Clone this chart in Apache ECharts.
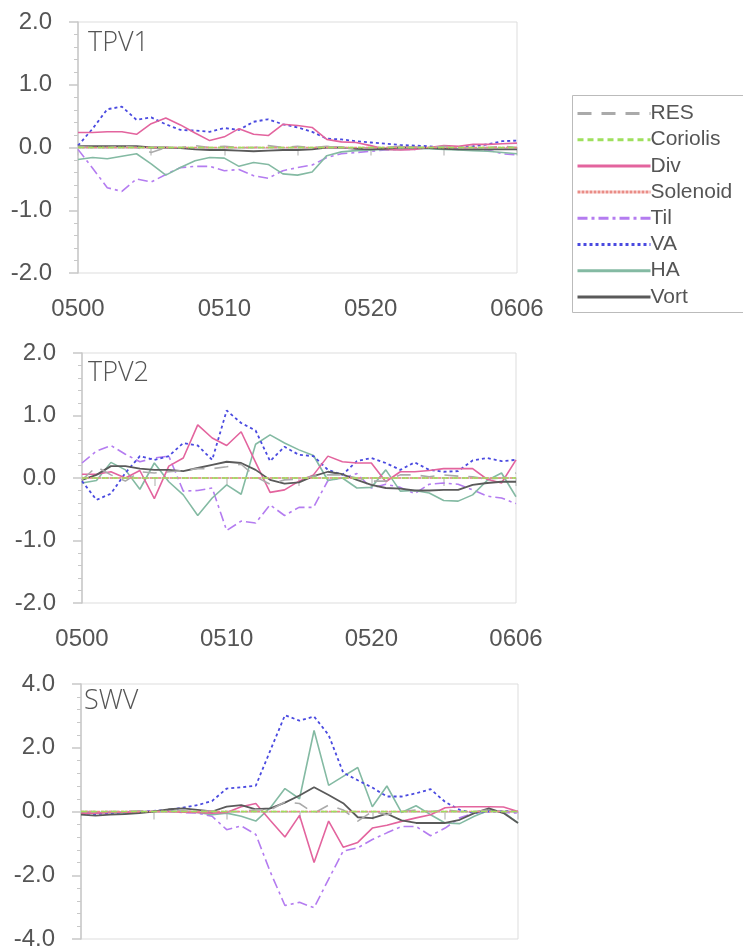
<!DOCTYPE html>
<html><head><meta charset="utf-8">
<script src="https://cdn.jsdelivr.net/npm/echarts@6/dist/echarts.min.js"></script>
<style>html,body{margin:0;padding:0;background:#fff;}#c{width:743px;height:951px;}</style>
</head><body><div id="c"></div>
<script>
// ---------- data ----------
const categories = ['0500','0501','0502','0503','0504','0505','0506','0507','0508','0509',
  '0510','0511','0512','0513','0514','0515','0516','0517','0518','0519',
  '0520','0521','0522','0523','0524','0525','0526','0527','0528','0529','0606'];
const xTickLabels = ['0500','0510','0520','0606'];
const yTicksTPV = [-2, -1, 0, 1, 2];
const yTicksSWV = [-4, -2, 0, 2, 4];
const seriesNames = ['RES','Coriolis','Div','Solenoid','Til','VA','HA','Vort'];
const panelTitles = ['TPV1','TPV2','SWV'];

// TPV1
const res1 = [0.02,0.0,0.0,0.02,0.0,-0.08,0.0,0.0,0.03,0.0,0.02,0.0,0.0,0.03,0.0,0.02,0.0,0.02,0.0,-0.02,0.0,0.0,0.02,0.0,0.0,0.02,0.0,0.0,0.0,0.02,0.0];
const cor1 = [0,0,0,0,0,0,0,0,0,0,0,0,0,0,0,0,0,0,0,0,0,0,0,0,0,0,0,0,0,0,0];
const div1 = [0.24,0.24,0.25,0.25,0.21,0.38,0.47,0.36,0.23,0.11,0.17,0.30,0.21,0.19,0.37,0.35,0.32,0.13,0.09,0.08,0.03,-0.03,-0.04,-0.03,0.0,0.03,0.02,0.05,0.05,0.06,0.07];
const sol1 = [0,0,0,0,0,0,0,0,0,0,0,0,0,0,0,0,0,0,0,0,0,0,0,0,0,0,0,0,0,0,0];
const til1 = [-0.03,-0.33,-0.64,-0.70,-0.50,-0.55,-0.43,-0.32,-0.30,-0.30,-0.37,-0.35,-0.45,-0.49,-0.37,-0.32,-0.28,-0.16,-0.10,-0.08,-0.06,-0.04,-0.03,-0.03,0.0,-0.02,-0.03,-0.04,-0.04,-0.10,-0.12];
const va1 = [0.03,0.30,0.61,0.65,0.44,0.48,0.37,0.28,0.27,0.25,0.31,0.28,0.41,0.45,0.37,0.32,0.25,0.14,0.13,0.10,0.08,0.06,0.04,0.03,0.02,0.0,0.0,0.02,0.05,0.10,0.11];
const ha1 = [-0.19,-0.16,-0.18,-0.14,-0.10,-0.26,-0.44,-0.32,-0.21,-0.16,-0.17,-0.30,-0.24,-0.27,-0.42,-0.44,-0.39,-0.13,-0.07,-0.05,-0.04,-0.03,-0.03,-0.02,-0.02,-0.03,-0.04,-0.05,-0.06,-0.08,-0.10];
const vort1 = [0.02,0.02,0.02,0.02,0.02,0.0,0.0,-0.01,-0.03,-0.04,-0.04,-0.05,-0.06,-0.05,-0.04,-0.04,-0.03,0.0,0.0,-0.02,-0.03,-0.02,0.0,0.0,-0.01,-0.02,-0.03,-0.03,-0.03,-0.03,-0.03];

// TPV2
const res2 = [-0.03,0.18,0.05,-0.05,0.10,0.08,0.10,0.12,0.15,0.15,0.18,0.22,0.02,-0.10,-0.03,-0.02,0.03,0.05,0.05,0.0,-0.05,-0.05,0.05,0.05,0.02,0.05,0.03,0.02,-0.02,0.0,0.08];
const cor2 = [0,0,0,0,0,0,0,0,0,0,0,0,0,0,0,0,0,0,0,0,0,0,0,0,0,0,0,0,0,0,0];
const div2 = [0.06,0.06,0.10,0.0,0.12,-0.33,0.19,0.32,0.85,0.64,0.52,0.74,0.25,-0.23,-0.19,-0.05,0.05,0.35,0.26,0.24,0.24,-0.06,0.10,0.10,0.12,0.15,0.15,0.15,-0.02,-0.08,0.29];
const sol2 = [0,0,0,0,0,0,0,0,0,0,0,0,0,0,0,0,0,0,0,0,0,0,0,0,0,0,0,0,0,0,0];
const til2 = [0.24,0.43,0.52,0.38,0.26,0.32,0.35,-0.21,-0.20,-0.16,-0.84,-0.69,-0.72,-0.43,-0.60,-0.47,-0.47,-0.04,0.0,0.07,-0.16,-0.10,-0.15,-0.25,-0.10,-0.08,-0.10,-0.19,-0.29,-0.32,-0.41];
const va2 = [-0.05,-0.35,-0.25,0.08,0.35,0.29,0.35,0.56,0.52,0.29,1.08,0.88,0.76,0.27,0.50,0.37,0.35,0.13,0.05,0.27,0.32,0.24,0.13,0.25,0.13,0.10,0.11,0.28,0.32,0.27,0.29];
const ha2 = [-0.08,-0.04,0.25,0.13,-0.18,0.24,-0.06,-0.27,-0.60,-0.32,-0.11,-0.26,0.54,0.69,0.56,0.45,0.36,-0.04,0.0,-0.16,-0.15,0.13,-0.21,-0.20,-0.24,-0.36,-0.37,-0.27,-0.04,0.08,-0.30];
const vort2 = [-0.03,0.05,0.19,0.19,0.15,0.13,0.13,0.11,0.16,0.21,0.26,0.24,0.13,-0.03,-0.09,-0.07,0.03,0.10,0.06,-0.03,-0.11,-0.16,-0.17,-0.20,-0.20,-0.19,-0.19,-0.11,-0.08,-0.06,-0.06];

// SWV
const res3 = [0,0,0,0,0.02,0,0,0.02,0,0.02,0,0,0.05,0.05,0.30,0.25,-0.05,0.20,0.05,-0.30,0.0,-0.10,0.0,0.05,0.0,0.05,0.0,0.0,0.05,0.0,0.0];
const cor3 = [0,0,0,0,0,0,0,0,0,0,0,0,0,0,0,0,0,0,0,0,0,0,0,0,0,0,0,0,0,0,0];
const div3 = [-0.05,-0.05,-0.03,-0.02,-0.02,0.0,0.0,-0.02,-0.03,-0.05,-0.03,0.15,0.25,-0.28,-0.80,-0.12,-1.60,-0.30,-1.12,-0.97,-0.52,-0.43,-0.31,-0.20,-0.10,0.12,0.15,0.15,0.15,0.14,0.0];
const sol3 = [0,0,0,0,0,0,0,0,0,0,0,0,0,0,0,0,0,0,0,0,0,0,0,0,0,0,0,0,0,0,0];
const til3 = [-0.02,-0.02,-0.01,-0.01,0.0,0.0,0.0,-0.03,-0.05,-0.15,-0.57,-0.45,-0.72,-1.90,-2.95,-2.85,-3.02,-2.12,-1.24,-1.14,-0.88,-0.67,-0.47,-0.47,-0.76,-0.52,-0.20,-0.05,0.0,-0.03,-0.05];
const va3 = [-0.05,-0.08,-0.05,-0.03,-0.02,0.02,0.05,0.12,0.20,0.33,0.72,0.76,0.81,1.92,3.02,2.85,2.98,2.40,1.22,0.98,0.75,0.47,0.47,0.57,0.70,0.30,0.05,-0.05,0.0,0.02,0.0];
const ha3 = [-0.05,-0.05,-0.03,-0.05,-0.03,0.0,0.02,0.0,-0.03,-0.10,-0.05,-0.15,-0.30,0.12,0.72,0.40,2.54,0.82,1.10,1.38,0.15,0.80,-0.03,0.18,-0.10,-0.36,-0.38,-0.15,0.04,-0.02,-0.36];
const vort3 = [-0.10,-0.13,-0.10,-0.08,-0.05,0.0,0.07,0.10,0.05,0.0,0.15,0.20,0.07,0.10,0.28,0.50,0.76,0.52,0.26,-0.18,-0.21,-0.07,-0.28,-0.36,-0.36,-0.36,-0.26,-0.05,0.10,-0.05,-0.36];

const panelData = [
  [res1, cor1, div1, sol1, til1, va1, ha1, vort1],
  [res2, cor2, div2, sol2, til2, va2, ha2, vort2],
  [res3, cor3, div3, sol3, til3, va3, ha3, vort3]
];

// ---------- styles ----------
const lineStyles = {
  RES:      {color:'#aaaaaa', type:[14,10], width:1.6},
  Coriolis: {color:'#9ee05c', type:[6,4], width:1.6},
  Div:      {color:'#e3649e', type:'solid', width:1.6},
  Solenoid: {color:'#ea8c86', type:[3,1], width:1.6},
  Til:      {color:'#b47cf0', type:[10,4,3,4], width:1.6},
  VA:       {color:'#4a4ae0', type:[3,3], width:1.8},
  HA:       {color:'#84baa3', type:'solid', width:1.6},
  Vort:     {color:'#5a5a5a', type:'solid', width:1.8}
};
const drawOrder = ['Til','HA','VA','Div','Vort','RES','Solenoid','Coriolis'];

const grids = [
  {left:78, top:22, width:439, height:251},
  {left:82, top:353, width:434, height:250},
  {left:81, top:684, width:437, height:255}
];
const yRanges = [yTicksTPV, yTicksTPV, yTicksSWV];
const txt = '#555555';
const axisGray = '#c8c8c8';

const option = {
  backgroundColor:'#ffffff',
  animation:false,
  title: panelTitles.map((t,i)=>({
    text:t, left: [88,88,84][i], top: [30,360,688][i], padding:0,
    textStyle:{fontFamily:'Open Sans', fontWeight:300, fontSize:27, color:txt}
  })),
  graphic:[{
    type:'rect', silent:true, z:0,
    shape:{x:572.5, y:95.5, width:220, height:217},
    style:{fill:'none', stroke:'#bbbbbb', lineWidth:1}
  }],
  legend:{
    orient:'vertical', left:572, top:95,
    padding:[8,10,5,4], itemGap:5.2, itemWidth:73, itemHeight:20,
    borderWidth:0,
    data: seriesNames,
    itemStyle:{opacity:0},
    textStyle:{fontFamily:'Liberation Sans', fontSize:21, color:txt, padding:[0,0,0,-5], lineHeight:20},
    lineStyle:{width:3}
  },
  grid: grids.map(g=>Object.assign({show:true, borderColor:'#dddddd', borderWidth:1, containLabel:false}, g)),
  xAxis: grids.map((g,i)=>({
    type:'category', gridIndex:i, data:categories, boundaryGap:false,
    axisLine:{lineStyle:{color:axisGray, width:1.5}},
    axisTick:{show:true, interval:4, length:8, lineStyle:{color:axisGray, width:1.5}},
    axisLabel:{show: i<2, interval:9, margin:24, fontFamily:'Liberation Sans', fontSize:24, color:txt,
      formatter:(v,idx)=> xTickLabels[idx/10] },
    splitLine:{show:false}
  })),
  yAxis: grids.map((g,i)=>{
    const t = yRanges[i];
    return {
      type:'value', gridIndex:i, min:t[0], max:t[t.length-1], interval:t[1]-t[0],
      axisLine:{show:true, lineStyle:{color:axisGray, width:1.5}},
      axisTick:{show:true, length:9, lineStyle:{color:axisGray, width:1.5}},
      minorTick:{show:true, splitNumber:5, length:4, lineStyle:{color:axisGray}},
      axisLabel:{margin:26, fontFamily:'Liberation Sans', fontSize:24, color:txt,
        formatter:v=>v.toFixed(1)},
      splitLine:{show:false}
    };
  }),
  series: []
};

panelData.forEach((arrs, p)=>{
  drawOrder.forEach(name=>{
    const k = seriesNames.indexOf(name);
    const st = lineStyles[name];
    option.series.push({
      name:name, type:'line', xAxisIndex:p, yAxisIndex:p,
      data: arrs[k], symbol:'none', smooth:false,
      lineStyle:{color:st.color, type:st.type, width:st.width},
      itemStyle:{color:st.color},
      z: 2 + drawOrder.indexOf(name)
    });
  });
});

const chart = echarts.init(document.getElementById('c'), null, {renderer:'canvas'});
chart.setOption(option);
</script>
</body></html>
